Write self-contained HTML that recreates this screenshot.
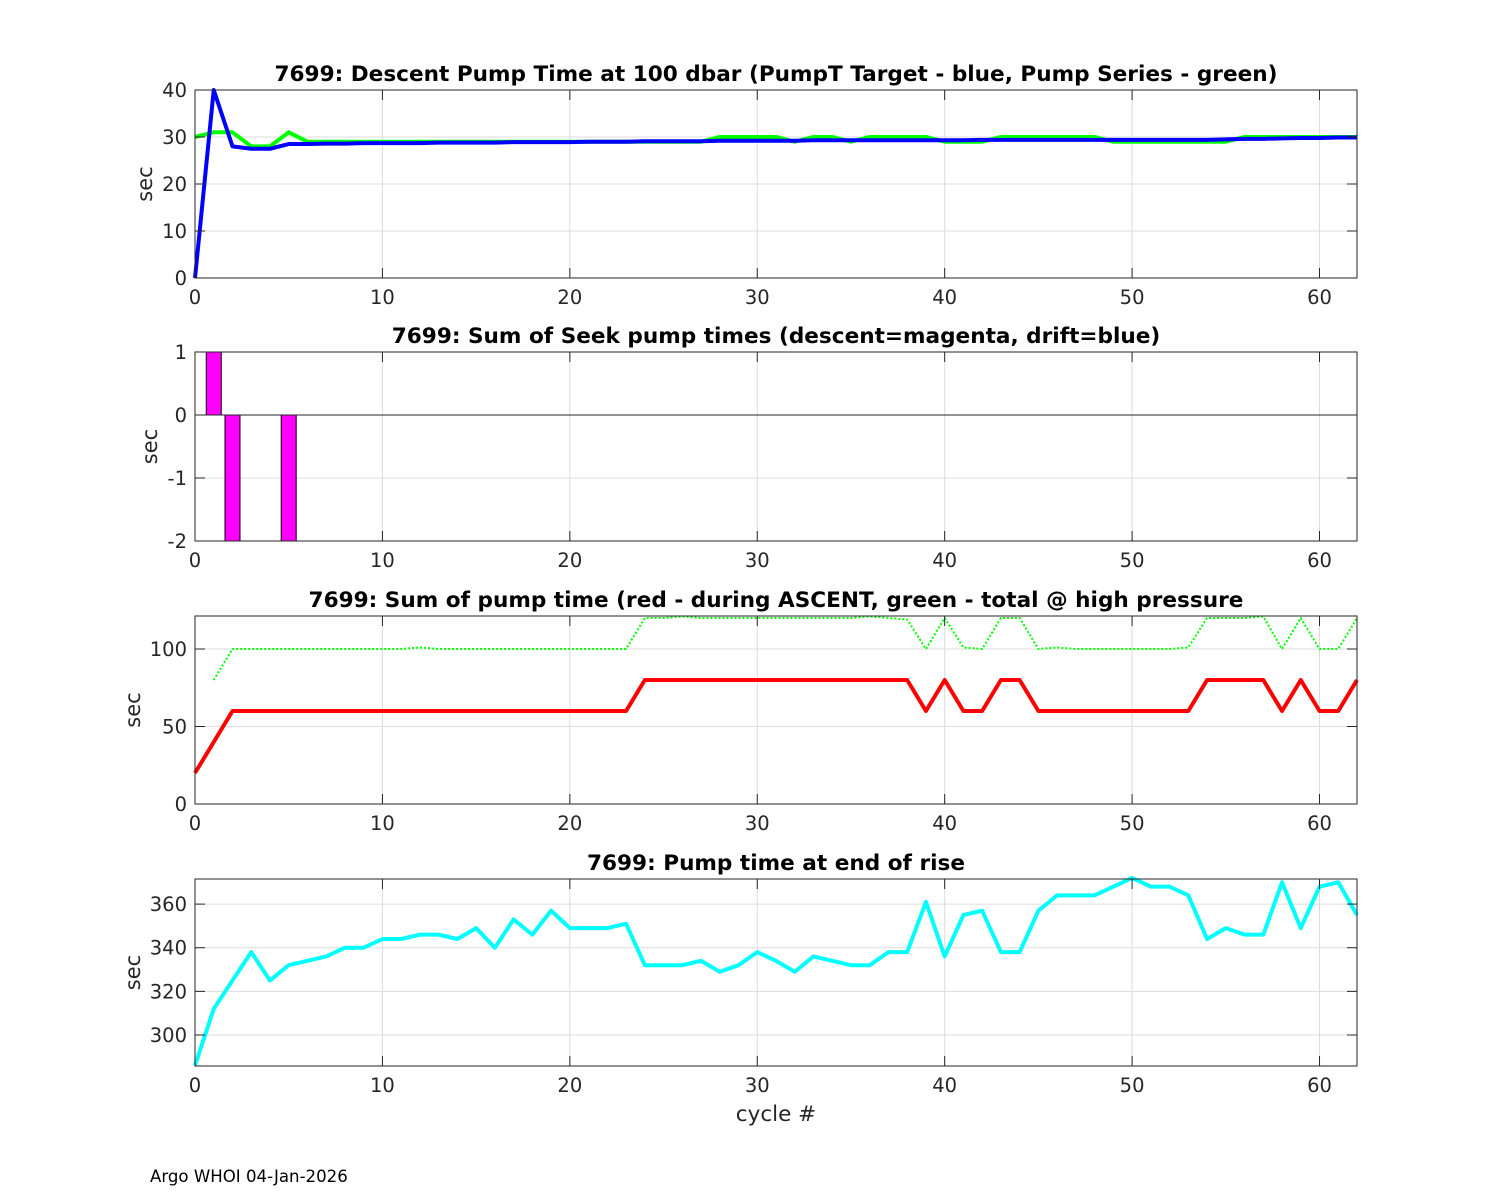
<!DOCTYPE html>
<html><head><meta charset="utf-8"><style>
body{margin:0;background:#fff}
svg{display:block;font-family:"DejaVu Sans","Liberation Sans",sans-serif}
</style></head><body>
<svg id="c" width="1500" height="1200" viewBox="0 0 1500 1200" xmlns="http://www.w3.org/2000/svg"></svg>
<script>
const cycles = [...Array(63).keys()];
const descentGreen = [30,31,31,28,28,31,29,29,29,29,29,29,29,29,29,29,29,29,29,29,29,29,29,29,29,29,29,29,30,30,30,30,29,30,30,29,30,30,30,30,29,29,29,30,30,30,30,30,30,29,29,29,29,29,29,29,30,30,30,30,30,30,30];
const descentBlue = [0,40,28,27.5,27.5,28.5,28.5,28.6,28.6,28.7,28.7,28.7,28.7,28.8,28.8,28.8,28.8,28.9,28.9,28.9,28.9,29,29,29,29.1,29.1,29.1,29.1,29.2,29.2,29.2,29.2,29.2,29.3,29.3,29.3,29.3,29.3,29.3,29.3,29.3,29.3,29.4,29.4,29.4,29.4,29.4,29.4,29.4,29.4,29.4,29.4,29.4,29.4,29.4,29.5,29.6,29.6,29.7,29.8,29.8,29.9,29.9];
const seekCycles = [1,2,5];
const seekValues = [1,-2,-2];
const ascentRed = [20,40,60,60,60,60,60,60,60,60,60,60,60,60,60,60,60,60,60,60,60,60,60,60,80,80,80,80,80,80,80,80,80,80,80,80,80,80,80,60,80,60,60,80,80,60,60,60,60,60,60,60,60,60,80,80,80,80,60,80,60,60,80];
const totalGreen = [null,80,100,100,100,100,100,100,100,100,100,100,101,100,100,100,100,100,100,100,100,100,100,100,120,120,121,120,120,120,120,120,120,120,120,120,121,120,119,100,120,101,100,120,120,100,101,100,100,100,100,100,100,101,120,120,120,121,100,120,100,100,120];
const riseValues = [286,312,325,338,325,332,334,336,340,340,344,344,346,346,344,349,340,353,346,357,349,349,349,351,332,332,332,334,329,332,338,334,329,336,334,332,332,338,338,361,336,355,357,338,338,357,364,364,364,368,372,368,368,364,344,349,346,346,370,349,368,370,355];
const p1Ticks=[0,10,20,30,40], p2Ticks=[-2,-1,0,1], p3Ticks=[0,50,100], p4Ticks=[300,320,340,360];
const xTicks=[0,10,20,30,40,50,60];

const svg=document.getElementById('c');
const NS='http://www.w3.org/2000/svg';
function mk(tag,attrs,parent){const e=document.createElementNS(NS,tag);for(const k in attrs)e.setAttribute(k,attrs[k]);(parent||svg).appendChild(e);return e;}
const X0=195,X1=1357;
function sx(v){return X0+(v/62)*(X1-X0);}

function panel(name,top,bot,ymin,ymax,yt,title,ylabel,ylx){
  const g=mk('g',{});
  
  
  const sy=v=>bot-(v-ymin)/(ymax-ymin)*(bot-top);
  mk('rect',{x:X0,y:top,width:X1-X0,height:bot-top,fill:'#fff'},g);
  xTicks.forEach(t=>{mk('line',{x1:sx(t),x2:sx(t),y1:top,y2:bot,stroke:'#dcdcdc','stroke-width':1},g);});
  yt.forEach(t=>{mk('line',{x1:X0,x2:X1,y1:sy(t),y2:sy(t),stroke:'#dcdcdc','stroke-width':1},g);});
  const plot=mk('g',{},g);
  const fr=mk('g',{},g);
  xTicks.forEach(t=>{
    mk('line',{x1:sx(t),x2:sx(t),y1:bot,y2:bot-10,stroke:'#262626'},fr);
    mk('line',{x1:sx(t),x2:sx(t),y1:top,y2:top+10,stroke:'#262626'},fr);
    const tx=mk('text',{x:sx(t),y:bot+26,'text-anchor':'middle','font-size':19.5,fill:'#262626'},fr);tx.textContent=t;
    
    
  });
  yt.forEach(t=>{
    mk('line',{x1:X0,x2:X0+10,y1:sy(t),y2:sy(t),stroke:'#262626'},fr);
    mk('line',{x1:X1,x2:X1-10,y1:sy(t),y2:sy(t),stroke:'#262626'},fr);
    const tx=mk('text',{x:X0-8,y:sy(t)+7,'text-anchor':'end','font-size':19.5,fill:'#262626'},fr);tx.textContent=t;
    
    
  });
  mk('rect',{x:X0,y:top,width:X1-X0,height:bot-top,fill:'none',stroke:'#262626','stroke-width':1},fr);
  const tt=mk('text',{x:(X0+X1)/2,y:top-9,'text-anchor':'middle','font-size':21.6,'font-weight':'bold',fill:'#000'},fr);tt.textContent=title;
  
  
  const yl=mk('text',{x:0,y:0,'text-anchor':'middle','font-size':21,fill:'#262626',transform:`translate(${ylx},${(top+bot)/2}) rotate(-90)`},fr);yl.textContent=ylabel;
  
  
  return {plot,sy};
}
function line(p,ys,color,w,dash,name){
  let d='';let pen=false;
  ys.forEach((v,i)=>{if(v===null){pen=false;return;}d+=(pen?'L':'M')+sx(cycles[i]).toFixed(2)+','+p.sy(v).toFixed(2);pen=true;});
  const e=mk('path',{d,fill:'none',stroke:color,'stroke-width':w,'stroke-linejoin':'round'},p.plot);
  if(dash)e.setAttribute('stroke-dasharray',dash);
  
  
}
const p1=panel('descent-pump-panel',90,278,0,40,p1Ticks,'7699: Descent Pump Time at 100 dbar (PumpT Target - blue, Pump Series - green)','sec',152);
line(p1,descentGreen,'#00ff00',4,null,'pump-series-line');
line(p1,descentBlue,'#0000ff',4,null,'pumpt-target-line');
const p2=panel('seek-pump-panel',352,541,-2,1,p2Ticks,'7699: Sum of Seek pump times (descent=magenta, drift=blue)','sec',157);
seekCycles.forEach((c,i)=>{
  const v=seekValues[i];const y0=p2.sy(0),y1=p2.sy(v);
  const r=mk('rect',{x:sx(c-0.4),y:Math.min(y0,y1),width:sx(0.8)-sx(0),height:Math.abs(y1-y0),fill:'#ff00ff',stroke:'#000','stroke-width':1},p2.plot);
  
  
});
mk('line',{x1:X0,x2:X1,y1:p2.sy(0),y2:p2.sy(0),stroke:'#262626'},p2.plot);
const p3=panel('ascent-pump-panel',616,804,0,121.3,p3Ticks,'7699: Sum of pump time (red - during ASCENT, green - total @ high pressure','sec',140);
line(p3,totalGreen,'#00ff00',2,'2,2','total-high-pressure-line');
line(p3,ascentRed,'#ff0000',4,null,'ascent-pump-line');
const p4=panel('end-rise-panel',879,1066,285.8,371.5,p4Ticks,'7699: Pump time at end of rise','sec',140);
line(p4,riseValues,'#00ffff',4,null,'end-rise-line');
const xl=mk('text',{x:(X0+X1)/2,y:1121,'text-anchor':'middle','font-size':21.5,fill:'#262626'});xl.textContent='cycle #';


const ft=mk('text',{x:150,y:1182,'font-size':16.6,fill:'#000'});ft.textContent='Argo WHOI 04-Jan-2026';


</script>
</body></html>
